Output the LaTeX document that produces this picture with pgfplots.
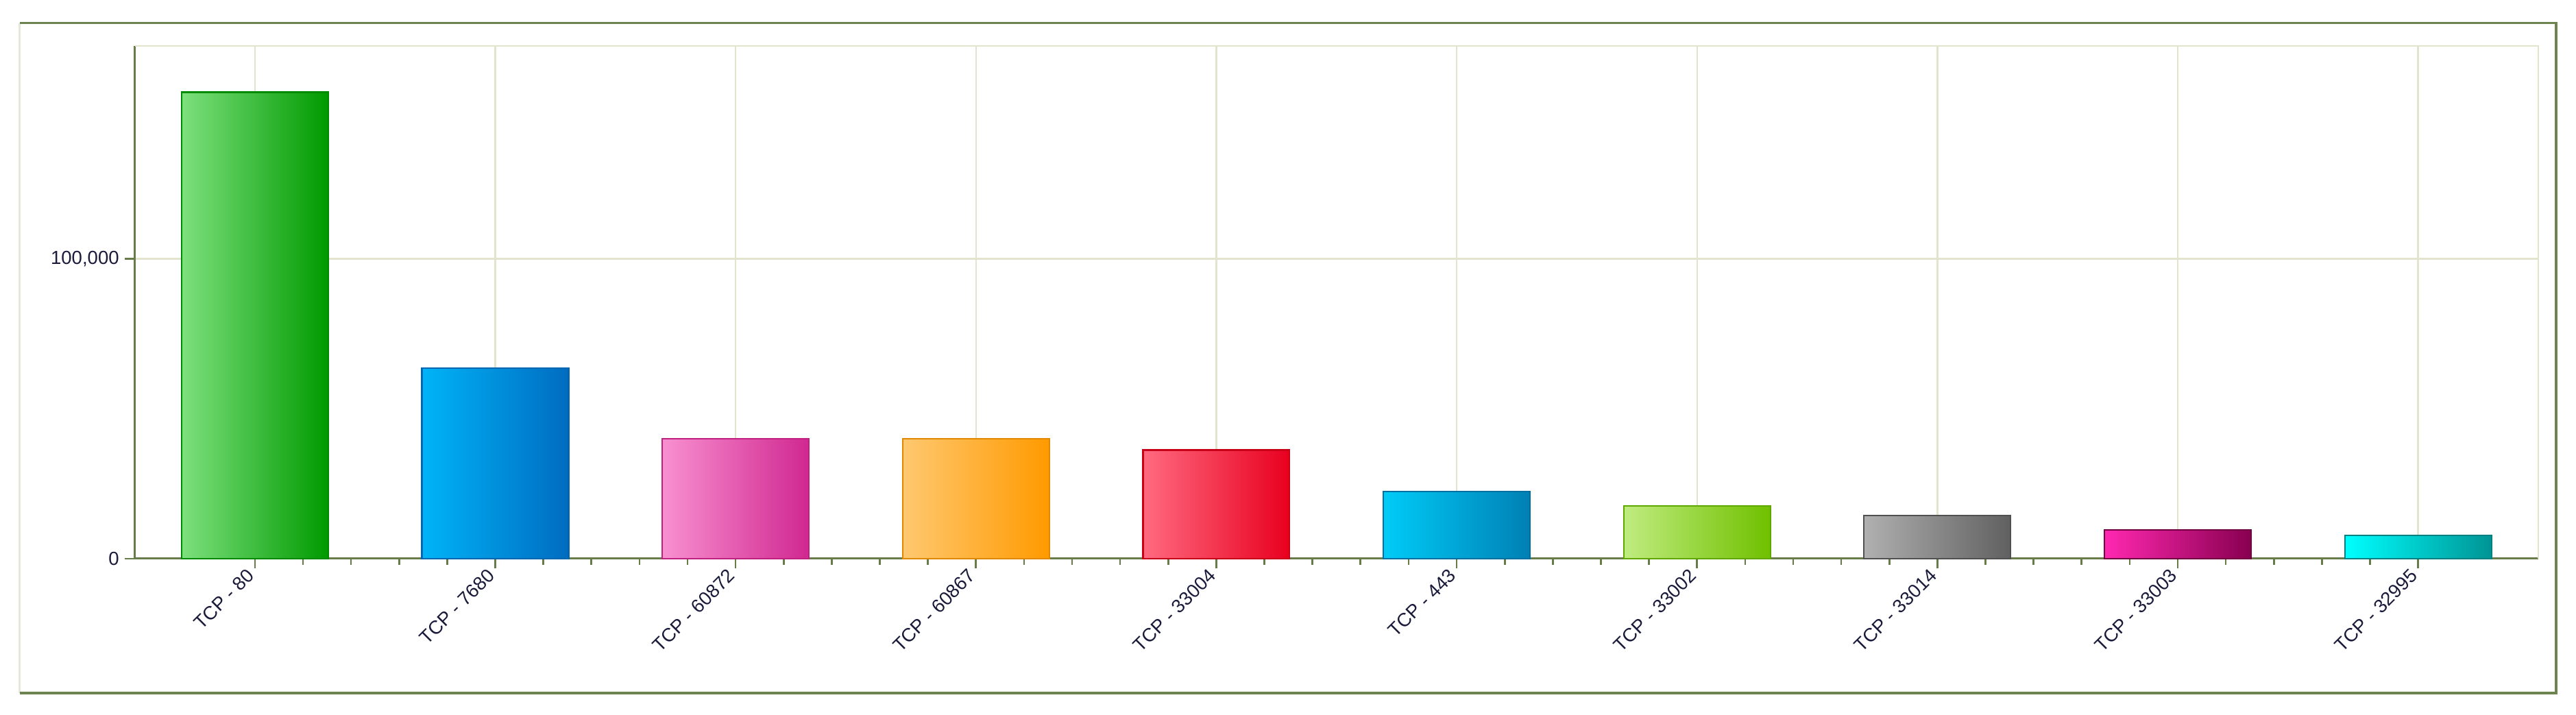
\documentclass[border=0pt]{standalone}
\usepackage{pgfplots}
\pgfplotsset{compat=1.18}
\usepackage{fontspec}
\setmainfont{Liberation Sans}
\definecolor{gridc}{HTML}{E2E4CE}
\definecolor{axc}{HTML}{687C4A}
\definecolor{framec}{HTML}{6E8450}
\definecolor{framel}{HTML}{E4E8D8}
\definecolor{txtc}{HTML}{1A1A3A}
\definecolor{ca1}{HTML}{7DE07D}\definecolor{cb1}{HTML}{009A00}\definecolor{cd1}{HTML}{008A00}
\definecolor{ca2}{HTML}{00B4F8}\definecolor{cb2}{HTML}{006CC0}\definecolor{cd2}{HTML}{0066B0}
\definecolor{ca3}{HTML}{F890D0}\definecolor{cb3}{HTML}{D02890}\definecolor{cd3}{HTML}{C02080}
\definecolor{ca4}{HTML}{FFC870}\definecolor{cb4}{HTML}{FF9A00}\definecolor{cd4}{HTML}{E08800}
\definecolor{ca5}{HTML}{FF6A80}\definecolor{cb5}{HTML}{E8001E}\definecolor{cd5}{HTML}{C80018}
\definecolor{ca6}{HTML}{00CCF8}\definecolor{cb6}{HTML}{0080B4}\definecolor{cd6}{HTML}{0070A0}
\definecolor{ca7}{HTML}{C0EC80}\definecolor{cb7}{HTML}{70C000}\definecolor{cd7}{HTML}{60A800}
\definecolor{ca8}{HTML}{B0B0B0}\definecolor{cb8}{HTML}{606060}\definecolor{cd8}{HTML}{505050}
\definecolor{ca9}{HTML}{FF28B0}\definecolor{cb9}{HTML}{880050}\definecolor{cd9}{HTML}{700040}
\definecolor{ca10}{HTML}{00FFFF}\definecolor{cb10}{HTML}{009494}\definecolor{cd10}{HTML}{008080}
\begin{document}
\begin{tikzpicture}
\useasboundingbox (0,0) rectangle (1568pt,435pt);
\draw[framel, line width=1.2pt] (12pt,13pt) -- (12pt,421pt);
\draw[framec, line width=1.6pt] (12pt,421pt) -- (1556pt,421pt) -- (1556pt,13pt) -- (12pt,13pt);
\begin{axis}[
  at={(82pt,95pt)}, anchor=south west,
  scale only axis, width=1463pt, height=312pt,
  xmin=-0.5, xmax=9.5, ymin=0, ymax=171000,
  axis lines*=left,
  axis line style={axc, line width=1.2pt},
  xtick={0,...,9},
  xticklabels={TCP - 80,TCP - 7680,TCP - 60872,TCP - 60867,TCP - 33004,TCP - 443,TCP - 33002,TCP - 33014,TCP - 33003,TCP - 32995},
  minor x tick num=4,
  ytick={0,100000},
  yticklabels={0,{100,000}},
  scaled y ticks=false,
  tick align=outside,
  major tick length=6pt, minor tick length=4pt,
  tick style={axc, line width=1.1pt},
  xmajorgrids, ymajorgrids,
  grid style={gridc, line width=1pt},
  yticklabel style={font=\fontsize{11.5}{13}\selectfont, text=txtc},
  xticklabel style={font=\fontsize{11.5}{13}\selectfont, text=txtc, rotate=45, anchor=east},
  every axis plot/.append style={ybar, bar width=0.61, bar shift=0pt, line width=0.9pt},
  clip=false,
]
\draw[gridc, line width=1pt] (rel axis cs:0,1) -- (rel axis cs:1,1) -- (rel axis cs:1,0);
\addplot[left color=ca1, right color=cb1, draw=cd1] coordinates {(0,155600)};
\addplot[left color=ca2, right color=cb2, draw=cd2] coordinates {(1,63600)};
\addplot[left color=ca3, right color=cb3, draw=cd3] coordinates {(2,40000)};
\addplot[left color=ca4, right color=cb4, draw=cd4] coordinates {(3,39900)};
\addplot[left color=ca5, right color=cb5, draw=cd5] coordinates {(4,36200)};
\addplot[left color=ca6, right color=cb6, draw=cd6] coordinates {(5,22400)};
\addplot[left color=ca7, right color=cb7, draw=cd7] coordinates {(6,17500)};
\addplot[left color=ca8, right color=cb8, draw=cd8] coordinates {(7,14300)};
\addplot[left color=ca9, right color=cb9, draw=cd9] coordinates {(8,9500)};
\addplot[left color=ca10, right color=cb10, draw=cd10] coordinates {(9,7800)};
\end{axis}
\end{tikzpicture}
\end{document}
